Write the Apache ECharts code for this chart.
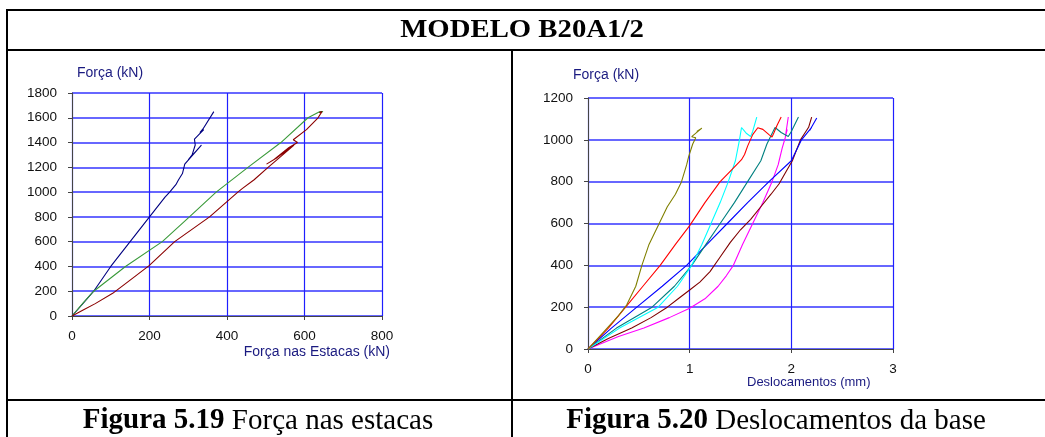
<!DOCTYPE html>
<html><head><meta charset="utf-8">
<script src="https://cdn.jsdelivr.net/npm/echarts@6/dist/echarts.min.js"></script>
<style>html,body{margin:0;padding:0;background:#fff}#c{width:1045px;height:437px}</style>
</head><body><div id="c"></div>
<script>
// ---- Data ----
const title = 'MODELO B20A1/2';
const caption1 = ['Figura 5.19', ' Força nas estacas'];
const caption2 = ['Figura 5.20', ' Deslocamentos da base'];
const yName = 'Força (kN)';
const xName1 = 'Força nas Estacas (kN)';
const xName2 = 'Deslocamentos (mm)';

// Fig 5.19: [force in pile (kN), force (kN)]
const pileNavy = [[0,0],[28,100],[56,200],[100,400],[150,600],[200,800],[240,960],[252,1000],[268,1060],[263,1050],[275,1100],[285,1150],[291,1226],[334,1380],[300,1260],[310,1300],[318,1380],[316,1428],[340,1504],[330,1480],[338,1510],[366,1650]];
const pileGreen = [[0,0],[30,110],[56,200],[138,400],[233,600],[303,800],[372,1000],[454,1200],[539,1400],[609,1600],[640,1650],[648,1650]];
const pileRed = [[0,0],[30,50],[60,100],[105,183],[150,290],[199,407],[265,600],[355,800],[428,1000],[440,1030],[435,1020],[470,1100],[506,1200],[540,1290],[573,1380],[530,1280],[502,1226],[520,1260],[560,1360],[582,1400],[571,1423],[605,1504],[600,1490],[635,1600],[645,1650],[638,1640]];

// Fig 5.20: [displacement (mm), force (kN)]
const dOlive = [[0,0],[0.15,80],[0.3,160],[0.38,210],[0.47,300],[0.53,400],[0.6,500],[0.7,600],[0.78,680],[0.86,740],[0.92,800],[0.97,880],[0.99,920],[1.03,980],[1.06,1010],[1.02,1015],[1.12,1056],[1.07,1040],[1.11,1052]];
const dRed = [[0,0],[0.2,100],[0.37,200],[0.54,300],[0.71,400],[0.86,500],[1.0,590],[1.15,700],[1.3,800],[1.42,860],[1.51,905],[1.54,930],[1.57,970],[1.62,1025],[1.67,1058],[1.72,1050],[1.78,1025],[1.81,1013],[1.83,1035],[1.86,1070],[1.9,1109]];
const dCyan = [[0,0],[0.31,100],[0.69,200],[0.88,300],[1.02,400],[1.12,500],[1.21,600],[1.3,700],[1.38,800],[1.45,900],[1.49,1000],[1.51,1059],[1.56,1030],[1.6,1016],[1.62,1040],[1.66,1109]];
const dTeal = [[0,0],[0.28,100],[0.63,200],[0.85,300],[1.02,400],[1.16,500],[1.3,600],[1.44,700],[1.57,800],[1.7,900],[1.76,980],[1.79,1010],[1.84,1059],[1.9,1035],[1.97,1016],[2.0,1040],[2.07,1109]];
const dBlue = [[0,0],[0.23,100],[0.48,200],[0.73,300],[0.97,400],[1.17,500],[1.37,600],[1.57,700],[1.78,800],[2.0,900],[2.1,1000],[2.15,1030],[2.2,1060],[2.18,1045],[2.25,1104]];
const dMagenta = [[0,0],[0.3,60],[0.55,100],[0.8,150],[1.0,195],[1.15,240],[1.28,300],[1.36,350],[1.43,400],[1.52,500],[1.62,600],[1.72,700],[1.81,800],[1.87,880],[1.88,900],[1.91,960],[1.94,1010],[1.96,1050],[1.94,1010],[1.97,1109]];
const dBrown = [[0,0],[0.2,50],[0.43,100],[0.62,150],[0.78,200],[0.9,245],[1.0,282],[1.1,320],[1.2,370],[1.3,440],[1.4,510],[1.5,570],[1.6,620],[1.7,680],[1.8,740],[1.88,790],[1.95,850],[2.01,900],[2.05,950],[2.09,1000],[2.13,1030],[2.17,1060],[2.2,1109]];

// ---- Chart ----
const chart = echarts.init(document.getElementById('c'), null, {renderer: 'canvas'});
const tickFont = {fontFamily: 'Liberation Sans, Arial', fontSize: 13.5, color: '#111', formatter: v => String(v)};
const nameColor = '#1a1a80';
function xAx(gi, min, max, interval) {
  return {type: 'value', gridIndex: gi, min, max, interval,
    axisLine: {show: true, onZero: false, lineStyle: {color: '#444', width: 1}},
    axisTick: {show: true, inside: false, length: 4, lineStyle: {color: '#444'}},
    axisLabel: Object.assign({margin: 13}, tickFont),
    splitLine: {show: true, lineStyle: {color: ['#1f1fff'], width: 1.2, type: 'solid', opacity: 1}}};
}
function yAx(gi, min, max, interval) {
  return {type: 'value', gridIndex: gi, min, max, interval,
    axisLine: {show: true, onZero: false, lineStyle: {color: '#444', width: 1}},
    axisTick: {show: true, inside: false, length: 4, lineStyle: {color: '#444'}},
    axisLabel: Object.assign({margin: 15}, tickFont),
    splitLine: {show: true, lineStyle: {color: ['#3535ff'], width: 1.6, type: 'solid'}}};
}
function ln(data, color, gi) {
  return {type: 'line', data, xAxisIndex: gi, yAxisIndex: gi, showSymbol: false, smooth: false,
    lineStyle: {color, width: 1.1}, itemStyle: {color}, animation: false, z: 3};
}
const border = {stroke: '#000', lineWidth: 2};
const option = {
  animation: false,
  grid: [
    {left: 72, top: 93, width: 310, height: 223},
    {left: 588, top: 98, width: 305, height: 251}
  ],
  xAxis: [xAx(0, 0, 800, 200), xAx(1, 0, 3, 1)],
  yAxis: [yAx(0, 0, 1800, 200), yAx(1, 0, 1200, 200)],
  series: [
    ln(pileNavy, '#000080', 0), ln(pileGreen, '#3a9a3a', 0), ln(pileRed, '#8b0000', 0),
    ln(dMagenta, '#ff00ff', 1), ln(dBrown, '#800000', 1), ln(dBlue, '#0000ff', 1),
    ln(dTeal, '#008080', 1), ln(dCyan, '#00ffff', 1), ln(dRed, '#ff0000', 1), ln(dOlive, '#808000', 1)
  ],
  graphic: [
    {type: 'line', shape: {x1: 7, y1: 10, x2: 1046, y2: 10}, style: border},
    {type: 'line', shape: {x1: 7, y1: 50, x2: 1046, y2: 50}, style: border},
    {type: 'line', shape: {x1: 7, y1: 400, x2: 1046, y2: 400}, style: border},
    {type: 'line', shape: {x1: 7, y1: 9, x2: 7, y2: 440}, style: border},
    {type: 'line', shape: {x1: 512, y1: 50, x2: 512, y2: 440}, style: border},
    {type: 'text', x: 522, y: 31, scaleX: 1.15, style: {text: title, font: 'bold 25px "Liberation Serif", "Times New Roman", serif', fill: '#000', textAlign: 'center', textVerticalAlign: 'middle'}},
    {type: 'text', x: 258, y: 421, style: {text: '{b|' + caption1[0] + '}{r|' + caption1[1] + '}', textAlign: 'center', textVerticalAlign: 'middle',
      rich: {b: {font: 'bold 29px "Liberation Serif", serif', fill: '#000'}, r: {font: '29px "Liberation Serif", serif', fill: '#000'}}}},
    {type: 'text', x: 776, y: 421, style: {text: '{b|' + caption2[0] + '}{r|' + caption2[1] + '}', textAlign: 'center', textVerticalAlign: 'middle',
      rich: {b: {font: 'bold 29px "Liberation Serif", serif', fill: '#000'}, r: {font: '29px "Liberation Serif", serif', fill: '#000'}}}},
    {type: 'text', x: 77, y: 73, style: {text: yName, font: '14px "Liberation Sans", Arial', fill: nameColor, textVerticalAlign: 'middle'}},
    {type: 'text', x: 390, y: 352, style: {text: xName1, font: '14px "Liberation Sans", Arial', fill: nameColor, textAlign: 'right', textVerticalAlign: 'middle'}},
    {type: 'text', x: 573, y: 75, style: {text: yName, font: '14px "Liberation Sans", Arial', fill: nameColor, textVerticalAlign: 'middle'}},
    {type: 'text', x: 747, y: 382, style: {text: xName2, font: '13px "Liberation Sans", Arial', fill: nameColor, textVerticalAlign: 'middle'}}
  ]
};
chart.setOption(option);
</script></body></html>
